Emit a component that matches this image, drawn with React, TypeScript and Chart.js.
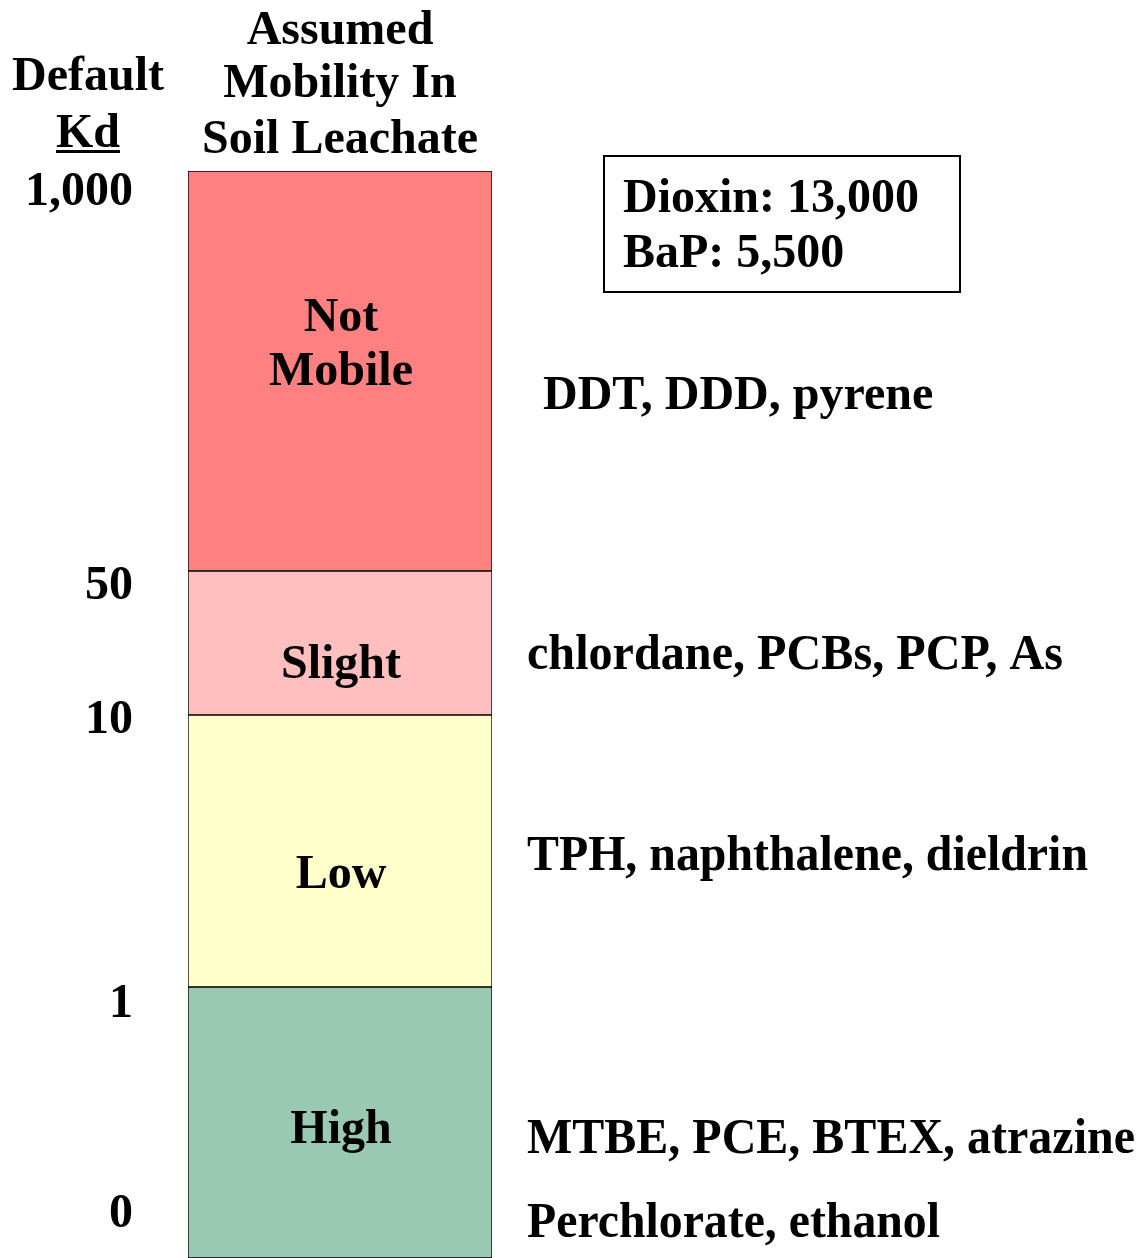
import { useEffect, useRef } from 'react';
import { Chart, registerables } from 'chart.js';

Chart.register(...registerables);

// Mobility classes, bottom to top, stacked on a schematic position scale
const mobilityClasses = ['High', 'Low', 'Slight', 'Not Mobile'];
const bandHeights = [271, 272, 144, 400];
const bandColors = ['#99C9B2', '#FFFFCC', '#FFBFBF', '#FF8080'];
const bandLabelLines = [['High'], ['Low'], ['Slight'], ['Not', 'Mobile']];
const bandLabelPos = [115, 370, 580, 927];
const scaleMax = 1087;

// Default Kd tick labels and where they sit on the position scale
const kdTickLabels = ['0', '1', '10', '50', '1,000'];
const kdTickPos = [43, 253, 537, 671, 1065];

// Example compounds for each class
const compoundGroups = [
  'DDT, DDD, pyrene',
  'chlordane, PCBs, PCP, As',
  'TPH, naphthalene, dieldrin',
  'MTBE, PCE, BTEX, atrazine',
  'Perchlorate, ethanol',
];
const compoundPos = [849, 589, 388, 105, 21];

// Very high Kd notes
const highKdNotes = ['Dioxin: 13,000', 'BaP: 5,500'];
const highKdPos = [1046, 991];

const FAMILY = '"Liberation Serif", "Times New Roman", serif';
const font = (s: number) => `bold ${s}px ${FAMILY}`;

export default function App() {
  const ref = useRef<HTMLCanvasElement | null>(null);

  useEffect(() => {
    document.body.style.margin = '0';
    const canvas = ref.current;
    if (!canvas) return;

    const textPlugin = {
      id: 'textPlugin',
      afterDraw(chart: any) {
        const ctx = chart.ctx as CanvasRenderingContext2D;
        const ca = chart.chartArea;
        const y = chart.scales.y;
        ctx.save();
        ctx.fillStyle = '#000';
        ctx.strokeStyle = '#000';
        ctx.textBaseline = 'alphabetic';

        // labels inside the bar
        ctx.textAlign = 'center';
        ctx.font = font(48);
        const cx = (ca.left + ca.right) / 2 + 1;
        bandLabelLines.forEach((lines, i) => {
          lines.forEach((t, j) => {
            ctx.fillText(t, cx, y.getPixelForValue(bandLabelPos[i]) + j * 54);
          });
        });

        // headers
        const heads = ['Assumed', 'Mobility In', 'Soil Leachate'];
        const headOff = [127, 74, 18];
        heads.forEach((t, i) => ctx.fillText(t, cx - 1, ca.top - headOff[i]));
        const kx = 88;
        ctx.fillText('Default', kx, ca.top - 81);
        ctx.fillText('Kd', kx, ca.top - 24);
        const kw = ctx.measureText('Kd').width;
        ctx.fillRect(kx - kw / 2, ca.top - 21, kw, 3);

        // compounds on the right
        ctx.textAlign = 'left';
        const maxW = [400, 536, 561, 608, 413];
        compoundGroups.forEach((t, i) => {
          const py = y.getPixelForValue(compoundPos[i]);
          if (i === 0) {
            ctx.font = font(48);
            ctx.fillText(t, ca.right + 51, py, maxW[i]);
          } else {
            ctx.font = font(50);
            ctx.fillText(t, ca.right + 35, py, maxW[i]);
          }
        });

        // high Kd note box
        ctx.font = font(48);
        highKdNotes.forEach((t, i) => {
          ctx.fillText(t, ca.right + 131, y.getPixelForValue(highKdPos[i]));
        });
        ctx.lineWidth = 2;
        ctx.strokeRect(ca.right + 112, ca.top - 15, 356, 136);
        ctx.restore();
      },
    };

    const chart = new Chart(canvas, {
      type: 'bar',
      data: {
        labels: ['Mobility'],
        datasets: mobilityClasses.map((name, i) => ({
          label: name,
          data: [bandHeights[i]],
          backgroundColor: bandColors[i],
          borderColor: '#000',
          borderWidth: 1,
          borderSkipped: false,
          barPercentage: 1,
          categoryPercentage: 1,
        })),
      },
      options: {
        responsive: false,
        animation: false,
        devicePixelRatio: 1,
        layout: { padding: { top: 171, right: 651, bottom: 0, left: 0 } },
        plugins: { legend: { display: false }, tooltip: { enabled: false } },
        scales: {
          x: { stacked: true, display: false },
          y: {
            stacked: true,
            min: 0,
            max: scaleMax,
            grid: { display: false, drawTicks: false },
            border: { display: false },
            afterBuildTicks: (scale: any) => {
              scale.ticks = kdTickPos.map((v) => ({ value: v }));
            },
            afterFit: (scale: any) => {
              scale.width = 188;
              scale.paddingTop = 0;
              scale.paddingBottom = 0;
            },
            ticks: {
              autoSkip: false,
              padding: 55,
              color: '#000',
              font: { family: FAMILY, size: 48, weight: 'bold' },
              callback: (_v: any, i: number) => kdTickLabels[i],
            },
          },
        },
      },
      plugins: [textPlugin],
    } as any);

    return () => chart.destroy();
  }, []);

  return (
    <div style={{ width: 1143, height: 1258, background: '#fff' }}>
      <canvas ref={ref} width={1143} height={1258} style={{ display: 'block' }} />
    </div>
  );
}
